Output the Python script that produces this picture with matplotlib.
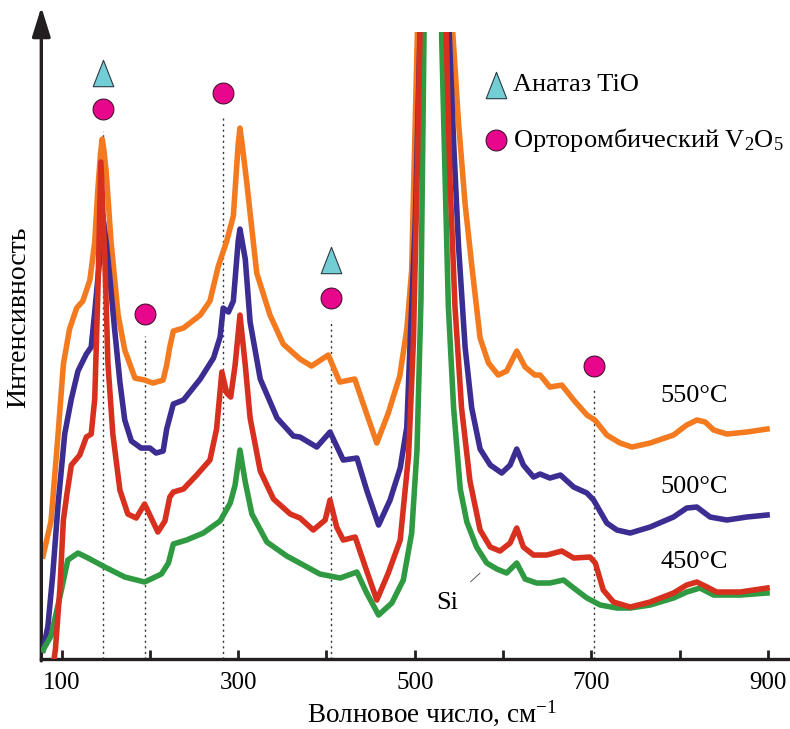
import matplotlib
matplotlib.use('Agg')
import matplotlib.pyplot as plt
from matplotlib.path import Path

plt.rcParams['font.family'] = ['Liberation Serif', 'DejaVu Serif']
plt.rcParams['mathtext.fontset'] = 'custom'
plt.rcParams['mathtext.rm'] = 'Liberation Serif'
plt.rcParams['mathtext.it'] = 'Liberation Serif:italic'
plt.rcParams['mathtext.bf'] = 'Liberation Serif:bold'

# Raman spectra (wavenumber, cm-1 / intensity, arb. units)
# the Si peak near 520 is off the scale in the original, so its top is clipped
x_550 = [79, 88, 96, 102, 109, 117, 124, 132, 137.5, 141, 144, 146, 148, 150.5, 156, 164, 171.5, 183, 194,
         203.5, 215, 219, 222.5, 226.5, 238, 257, 268, 277.5, 287, 294.5, 300, 302, 304, 309.5, 321, 336,
         351, 370, 383, 402, 415, 432, 444, 457, 470, 483, 491, 496.5, 500.5, 503, 521, 543, 549.5, 557,
         564.5, 574, 583.5, 594.5, 604, 615.5, 625, 636, 642, 653, 666.5, 680, 695, 704, 717.5, 732.5,
         746, 766.5, 793, 808, 819.5, 829, 838.5, 853.5, 876, 899]
i_550 = [103, 138, 225, 295, 330, 351, 358, 379, 417, 469, 505, 520, 508, 487, 417, 344, 309, 281, 279,
         276, 279, 294, 312, 328, 331, 344, 358, 393, 418, 443, 515, 531, 518, 478, 386, 344,
         315, 300, 293, 304, 277, 280, 249, 216, 246, 283, 330, 389, 537, 627, 1500, 627, 537, 455,
         394, 321, 296, 284, 288, 308, 292, 284, 284, 272, 274, 259, 244, 239, 224, 216,
         212, 216, 224, 234, 239, 237, 229, 225, 227, 230]

x_500 = [79, 84.5, 90, 96, 103.5, 111, 118.5, 128, 133.5, 137.5, 143, 146.5, 150.5, 154.5, 160, 166,
         171.5, 179, 190, 200, 207, 215, 219, 226.5, 238, 257, 272, 279.5, 283, 289, 294.5, 300, 302, 304,
         308, 313.5, 325, 344, 362.5, 370, 389, 404, 419, 434.5, 445.5, 459, 472, 483.5, 491, 494.5, 500.5,
         504, 506, 521, 539, 544, 549.5, 557, 564.5, 574, 585.5, 598.5, 608, 615.5, 623, 634.5, 642,
         653, 665, 680, 695, 702.5, 717.5, 729, 744, 766.5, 793, 808, 819.5, 834.5, 853.5, 876, 899]
i_500 = [9, 33, 85, 155, 225, 260, 288, 305, 312, 347, 399, 444, 417, 382, 330, 277,
         239, 218, 211, 211, 206, 208, 230, 255, 259, 280, 301, 322, 351, 347, 358, 418, 430, 420,
         400, 337, 280, 241, 223, 222, 212, 227, 199, 201, 169, 134, 159, 191, 232, 312, 435,
         557, 627, 1500, 627, 517, 414, 312, 251, 210, 194, 186, 194, 210, 194, 182, 185,
         181, 184, 172, 166, 159, 136, 129, 126, 132, 142, 151, 152, 142, 139, 142, 144]

x_450 = [90, 93, 98, 102, 106, 111, 120.5, 128, 133.5, 137.5, 141, 144.5, 149, 152.5, 158, 166, 175,
         184.5, 194, 201.5, 209, 217, 222.5, 226.5, 238, 253, 268, 275.5, 281.5, 287, 291.5, 296.5, 302,
         308, 313.5, 325, 340, 359, 370, 385, 398.5, 404, 411.5, 419, 432.5, 444, 457, 470, 483.5, 493,
         498.5, 502.5, 506, 521, 535.5, 540, 545.5, 553, 562.5, 574, 585.5, 596.5, 608, 615.5, 623,
         634.5, 649.5, 666.5, 680, 698.5, 704.5, 713.5, 725, 744, 766.5, 793, 808, 819.5, 831, 842,
         868.5, 899]
i_450 = [-10, 10, 70, 139, 165, 194, 204, 222, 225, 260, 365, 497, 399, 295, 225, 169, 145,
         141, 155, 141, 127, 138, 162, 167, 170, 184, 199, 230, 287, 266, 262, 294, 344,
         294, 241, 188, 160, 145, 141, 129, 139, 159, 132, 119, 122, 92, 59, 86, 119, 204,
         319, 476, 627, 1500, 627, 476, 353, 251, 178, 129, 112, 108, 116, 131, 112,
         104, 104, 108, 101, 102, 96, 69, 57, 52, 57, 66, 74, 77, 72, 67,
         67, 71]

x_si = [79, 88, 99.5, 107, 118.5, 130, 149, 171.5, 194, 213, 221, 226.5, 241.5, 260.5, 279.5, 291,
        296.5, 302, 308, 315.5, 332.5, 355, 378, 392.5, 415.5, 434.5, 445.5, 459, 474, 487, 496.5,
        502.5, 505, 507, 510.5, 521, 530.5, 534.5, 538, 544, 551.5, 559, 570, 581.5, 593, 604, 615.5,
        625, 638, 653, 668.5, 680, 695, 710, 729, 744, 766.5, 793, 808, 823, 838.5, 868.5, 899]
i_si = [9, 23, 68, 99, 106, 101, 92, 82, 77, 85, 96, 115, 119, 126, 138, 156,
        174, 209, 177, 145, 117, 103, 92, 85, 81, 87, 66, 44, 56, 79, 126,
        209, 292, 359, 627, 1500, 621, 476, 353, 251, 170, 137, 112, 96, 90, 86, 96,
        80, 76, 76, 79, 71, 61, 54, 51, 51, 54, 61, 67, 71, 64, 64, 66]

# phase markers: anatase TiO2 (triangles) and orthorhombic V2O5 (circles)
tio2_pos = [146.5, 405]
tio2_lvl = [586, 399]
v2o5_pos = [146.5, 195, 282.5, 405, 703.5]
v2o5_lvl = [550, 345, 566, 361, 293]

temp_labels = ['550°C', '500°C', '450°C']
temp_lvl = [263, 172, 97]

c_orange = '#f47a20'
c_blue = '#3b2d92'
c_red = '#d7301f'
c_green = '#2f9a41'
c_tri = '#72cdd4'
c_dot = '#e8068c'

tri = Path([(-0.78, -1), (0.78, -1), (0, 1), (-0.78, -1)],
           [Path.MOVETO, Path.LINETO, Path.LINETO, Path.CLOSEPOLY])

fig = plt.figure(figsize=(7.9, 7.29), dpi=100)
ax = fig.add_axes([0.0523, 0.096, 0.9477, 0.860])

lw = 4.0
ax.plot(x_550, i_550, color=c_orange, lw=lw, solid_joinstyle='round', zorder=3)
ax.plot(x_500, i_500, color=c_blue, lw=lw, solid_joinstyle='round', zorder=4)
ax.plot(x_si, i_si, color=c_green, lw=lw, solid_joinstyle='round', zorder=5)
ax.plot(x_450, i_450, color=c_red, lw=lw, solid_joinstyle='round', zorder=6)

# dotted guide lines under each V2O5 marker
for xp, lv in zip(v2o5_pos, v2o5_lvl):
    ax.plot([xp, xp], [0, lv - 22], color='#333333', lw=1.0, ls=(0, (1.5, 2.5)), zorder=2)

ax.plot(tio2_pos, tio2_lvl, ls='none', marker=tri, ms=19, mfc=c_tri, mec='#2b3a45', mew=0.8,
        zorder=7, clip_on=False)
ax.plot(v2o5_pos, v2o5_lvl, ls='none', marker='o', ms=15, mfc=c_dot, mec='#4a1030', mew=0.8,
        zorder=7, clip_on=False)

# legend drawn by hand as in the original
ax.plot([592], [574], ls='none', marker=tri, ms=19, mfc=c_tri, mec='#2b3a45', mew=0.8, clip_on=False)
ax.plot([592], [519], ls='none', marker='o', ms=15, mfc=c_dot, mec='#4a1030', mew=0.8, clip_on=False)
ax.text(611, 574, 'Анатаз TiO', fontsize=19, va='center', ha='left')
ax.text(611, 519, 'Орторомбический V$_2$O$_5$', fontsize=19, va='center', ha='left')

for lab, lv in zip(temp_labels, temp_lvl):
    ax.text(816, lv, lab, fontsize=19, ha='center', va='center')

ax.annotate('Si', xy=(574, 86), xytext=(537, 56), fontsize=19, ha='center', va='center',
            arrowprops=dict(arrowstyle='-', color='#444444', lw=0.6, shrinkA=9, shrinkB=0))

ax.set_xlim(77, 925)
ax.set_ylim(0, 627)

ax.spines['top'].set_visible(False)
ax.spines['right'].set_visible(False)
ax.spines['left'].set_visible(False)
ax.spines['bottom'].set_linewidth(2.4)
ax.spines['bottom'].set_color('#231f20')
ax.annotate('', xy=(0, 1.04), xytext=(0, -0.003), xycoords='axes fraction',
            arrowprops=dict(arrowstyle='-|>,head_length=0.9,head_width=0.28', lw=2.4,
                            color='#231f20', mutation_scale=20, shrinkA=0, shrinkB=0))

ax.set_yticks([])
ax.set_xticks(range(100, 1000, 100))
ax.set_xticklabels(['100', '', '300', '', '500', '', '700', '', '900'])
ax.tick_params(axis='x', direction='in', length=6.5, width=2, color='#231f20', labelsize=18, pad=9)

fig.text(432 / 790, 7 / 729, 'Волновое число, см$^{-1}$', fontsize=19.5, ha='center', va='baseline')
fig.text(0.024, 0.565, 'Интенсивность', rotation=90, fontsize=20, ha='center', va='center')

fig.savefig('out.png', dpi=100)
